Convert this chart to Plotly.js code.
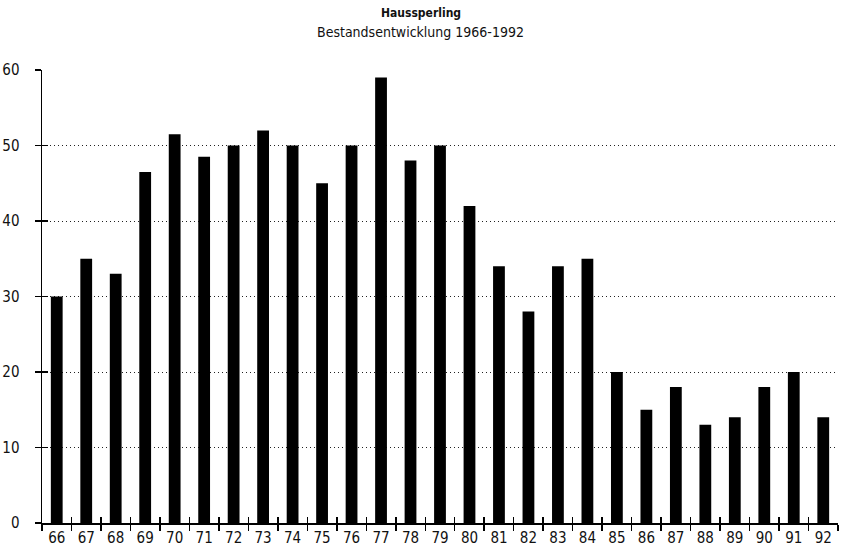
<!DOCTYPE html>
<html>
<head>
<meta charset="utf-8">
<script src="https://cdn.plot.ly/plotly-3.0.1.min.js"></script>
<style>html,body{margin:0;padding:0;background:#fff;}#chart{width:842px;height:549px;}</style>
</head>
<body>
<div id="chart"></div>
<script>
const years = ["66","67","68","69","70","71","72","73","74","75","76","77","78","79","80","81","82","83","84","85","86","87","88","89","90","91","92"];
const values = [30,35,33,46.5,51.5,48.5,50,52,50,45,50,59,48,50,42,34,28,34,35,20,15,18,13,14,18,20,14];
const yTicks = [0,10,20,30,40,50,60];
const titleMain = "Haussperling";
const titleSub = "Bestandsentwicklung 1966-1992";

const FONT = "'Liberation Sans Narrow', 'DejaVu Sans Condensed', 'Arial Narrow', sans-serif";

const traces = [
  {type:'bar', x:years, y:values, marker:{color:'#000', line:{width:0}}, hoverinfo:'x+y'},
  {type:'scatter', mode:'none', x:years, y:values, xaxis:'x2', yaxis:'y2', hoverinfo:'skip', showlegend:false}
];

const layout = {
  width:842, height:549,
  margin:{l:42, r:4, t:70, b:26},
  paper_bgcolor:'#fff', plot_bgcolor:'#fff',
  showlegend:false,
  bargap:0.6,
  font:{family:FONT, size:15, color:'#111'},
  annotations:[
    {text:'<b>'+titleMain+'</b>', xref:'paper', yref:'paper', x:0.476, y:1, yshift:57, xanchor:'center', yanchor:'middle',
     showarrow:false, font:{family:FONT, size:12, color:'#111'}},
    {text:titleSub, xref:'paper', yref:'paper', x:0.476, y:1, yshift:38, xanchor:'center', yanchor:'middle',
     showarrow:false, font:{family:FONT, size:14, color:'#111'}}
  ],
  xaxis:{type:'category', categoryorder:'array', categoryarray:years, range:[-0.5,26.5],
         showline:true, linecolor:'#000', linewidth:1.5, showgrid:false, zeroline:false,
         ticks:'outside', ticklen:6, tickcolor:'#000', tickwidth:1.5, tickson:'boundaries',
         tickfont:{family:FONT, size:15, color:'#111'}},
  yaxis:{range:[0,60], tickvals:yTicks, showline:true, linecolor:'#000', linewidth:1.5,
         showgrid:true, gridcolor:'#222', griddash:'1px,3px', gridwidth:1, zeroline:false,
         ticks:'outside', ticklen:6, tickcolor:'#000', tickwidth:1.5, ticklabelstandoff:12,
         tickfont:{family:FONT, size:15, color:'#111'}},
  xaxis2:{type:'category', categoryorder:'array', categoryarray:years, range:[-0.5,26.5],
          overlaying:'x', side:'bottom', anchor:'y2', showline:false, showgrid:false, zeroline:false,
          ticks:'inside', ticklen:6, tickcolor:'#000', tickwidth:1.5, tickson:'boundaries',
          showticklabels:false},
  yaxis2:{range:[0,60], tickvals:yTicks, overlaying:'y', side:'left', anchor:'x2', showline:false,
          showgrid:false, zeroline:false, ticks:'inside', ticklen:6, tickcolor:'#000', tickwidth:1.5,
          showticklabels:false}
};

Plotly.newPlot('chart', traces, layout, {displayModeBar:false, staticPlot:true});
</script>
</body>
</html>
